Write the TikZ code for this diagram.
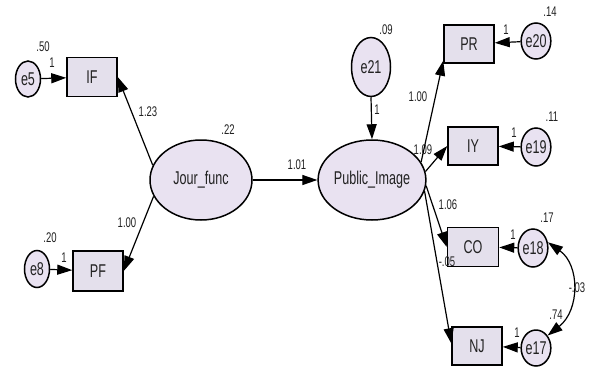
\documentclass[tikz,border=0pt]{standalone}
\usepackage{fontspec}
\setmainfont{Liberation Sans}[FakeStretch=0.68]
\usetikzlibrary{shapes.geometric,arrows.meta}
\definecolor{boxfill}{HTML}{E4E0EC}
\definecolor{ellfill}{HTML}{E9E2F1}
\definecolor{txt}{HTML}{222222}
\begin{document}
\begin{tikzpicture}[x=1pt,y=-1pt,
  obs/.style={draw, line width=1.5pt, fill=boxfill, minimum width=50pt, minimum height=38pt, inner sep=0pt, font=\fontsize{18.5}{20}\selectfont, text=txt},
  lat/.style={draw, ellipse, line width=1.5pt, fill=ellfill, minimum width=102pt, minimum height=80pt, inner sep=0pt, font=\fontsize{18.5}{20}\selectfont, text=txt},
  err/.style={draw, ellipse, line width=1.5pt, fill=ellfill, minimum width=25pt, minimum height=36pt, inner sep=0pt, font=\fontsize{18.5}{20}\selectfont, text=txt},
  conn/.style={line width=1.2pt, -{Triangle[length=15pt,width=10pt]}},
  cov/.style={line width=1.2pt, {Triangle[length=15pt,width=10pt]}-{Triangle[length=15pt,width=10pt]}},
  lbl/.style={font=\fontsize{14}{16}\selectfont, inner sep=0pt, text=txt}
]
\useasboundingbox (0,0) rectangle (594,383);
% nodes
\node[err] (e5) at (28,79) {e5};
\node[obs, minimum height=39pt] (IF) at (92,77) {IF};
\node[lat] (J) at (201,180) {Jour\_func};
\node[obs, minimum height=40pt] (PF) at (98,271) {PF};
\node[err, minimum height=37pt] (e8) at (37,269) {e8};
\node[lat] (PI) at (372,180) {Public\_Image};
\node[err, minimum width=39pt, minimum height=59pt] (e21) at (371,67) {e21};
\node[obs] (PR) at (469,44) {PR};
\node[err, minimum width=26pt] (e20) at (536,41) {e20};
\node[obs] (IY) at (473,146) {IY};
\node[err, minimum height=38pt] (e19) at (536,147) {e19};
\node[obs, minimum width=51pt, minimum height=39pt] (CO) at (473,247) {CO};
\node[err, minimum width=27pt, minimum height=38pt] (e18) at (533,248) {e18};
\node[obs] (NJ) at (477,346) {NJ};
\node[err] (e17) at (536,348) {e17};
% connectors
\draw[conn] (e5) -- (IF);
\draw[conn] (e8) -- (PF);
\draw[conn] (J.163) -- (IF.east);
\draw[conn] (J.199) -- (PF.east);
\draw[conn] (J.east) -- (PI.west);
\draw[conn] (e21.south) -- (PI.north);
\draw[conn] (PI.20) -- (PR.213);
\draw[conn] (PI.9) -- (IY.west);
\draw[conn] (PI.-6) -- (CO.west);
\draw[conn] (PI.-12) -- (NJ.174);
\draw[conn] (e20) -- (PR);
\draw[conn] (e19) -- (IY);
\draw[conn] (e18) -- (CO);
\draw[conn] (e17) -- (NJ);
\draw[cov] (e18.21) .. controls (580,265) and (580,310) .. (e17.47);
% labels
\node[lbl] (l1) at (43,47) {.50};
\node[lbl] (l2) at (52,63) {1};
\node[lbl] (l3) at (148,112) {1.23};
\node[lbl] (l4) at (228,130) {.22};
\node[lbl] (l5) at (127,223) {1.00};
\node[lbl] (l6) at (50,238) {.20};
\node[lbl] (l7) at (64,258) {1};
\node[lbl] (l8) at (297,165) {1.01};
\node[lbl] (l9) at (386,30) {.09};
\node[lbl] (l10) at (377,110) {1};
\node[lbl] (l11) at (418,97) {1.00};
\node[lbl] (l12) at (423,150) {1.09};
\node[lbl] (l13) at (550,12) {.14};
\node[lbl] (l14) at (506,30) {1};
\node[lbl] (l15) at (552,117) {.11};
\node[lbl] (l16) at (514,133) {1};
\node[lbl] (l17) at (448,205) {1.06};
\node[lbl] (l18) at (547,218) {.17};
\node[lbl] (l19) at (513,235) {1};
\node[lbl] (l20) at (447,262) {-.05};
\node[lbl] (l21) at (577,288) {-.03};
\node[lbl] (l22) at (556,315) {.74};
\node[lbl] (l23) at (517,333) {1};
\end{tikzpicture}
\end{document}
